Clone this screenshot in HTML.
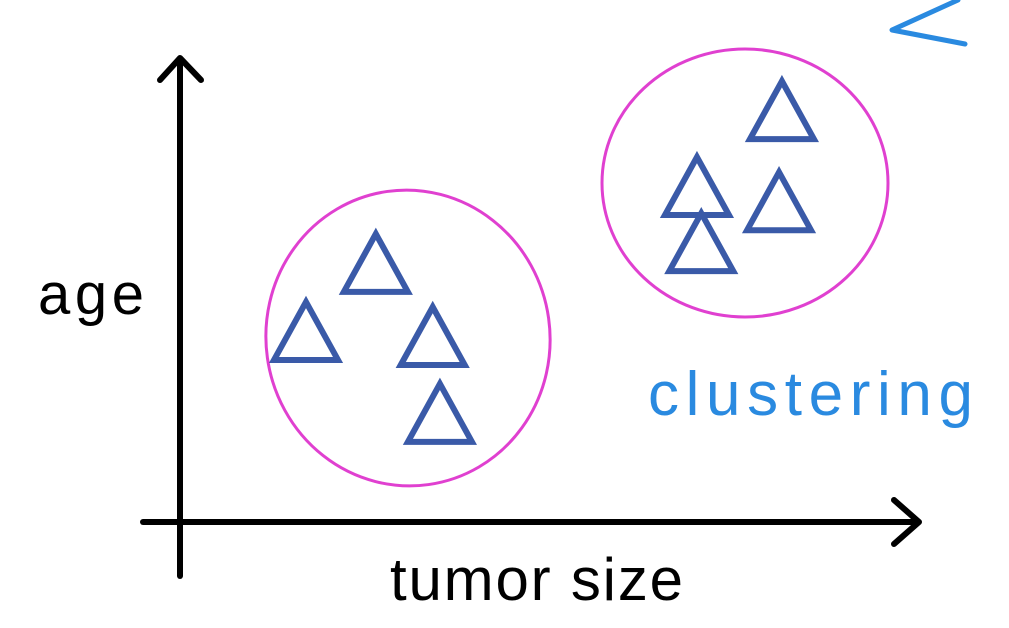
<!DOCTYPE html>
<html>
<head>
<meta charset="utf-8">
<style>
  html,body{margin:0;padding:0;background:#fff;}
  body{width:1009px;height:628px;overflow:hidden;}
  svg{display:block;}
</style>
</head>
<body>
<svg id="chart" width="1009" height="628" viewBox="0 0 1009 628" xmlns="http://www.w3.org/2000/svg">
  <rect width="1009" height="628" fill="#ffffff"/>
  <path d="M958,0 L892,30 L965,44" fill="none" stroke="#2a8ae0" stroke-width="5" stroke-linecap="round" stroke-linejoin="round"/>
  <g>
    <line x1="180" y1="60" x2="180" y2="576" stroke="#000" stroke-width="6" stroke-linecap="round"/>
    <polyline points="160,80 180,58 201,80" fill="none" stroke="#000" stroke-width="6" stroke-linecap="round" stroke-linejoin="round"/>
    <line x1="143" y1="522" x2="918" y2="522" stroke="#000" stroke-width="6" stroke-linecap="round"/>
    <polyline points="894,500 919,522 894,544" fill="none" stroke="#000" stroke-width="6" stroke-linecap="round" stroke-linejoin="round"/>
  </g>
  <text x="38" y="314" font-family="Liberation Sans, sans-serif" font-size="58" fill="#000" textLength="106">age</text>
  <text x="390" y="600" font-family="Liberation Sans, sans-serif" font-size="60" fill="#000" textLength="293">tumor size</text>
  <ellipse cx="408" cy="338" rx="142" ry="148" fill="none" stroke="#e040d0" stroke-width="3" transform="rotate(-8 408 338)"/>
  <ellipse cx="745" cy="183" rx="143" ry="134" fill="none" stroke="#e040d0" stroke-width="3"/>
  <g id="points"></g>
  <text x="648" y="415" font-family="Liberation Sans, sans-serif" font-size="62" fill="#2a8ae0" textLength="325">clustering</text>
</svg>
<script>
const tumorSize = [2.72, 1.75, 3.51, 3.61, 8.36, 7.18, 8.32, 7.24];
const age = [5.59, 4.11, 4.00, 2.33, 8.91, 7.26, 6.93, 6.04];
const clusterIds = [1, 1, 1, 1, 2, 2, 2, 2];

function xScale(v){ return 180 + v * 72; }
function yScale(v){ return 522 - v * 46; }

const g = document.getElementById('points');
const NS = 'http://www.w3.org/2000/svg';
for (let i = 0; i < tumorSize.length; i++) {
  const cx = xScale(tumorSize[i]);
  const cy = yScale(age[i]);
  const p = document.createElementNS(NS, 'polygon');
  p.setAttribute('points', `${cx},${cy-31} ${cx-32},${cy+27} ${cx+32},${cy+27}`);
  p.setAttribute('fill', 'none');
  p.setAttribute('stroke', '#3a5aa8');
  p.setAttribute('stroke-width', '6');
  
  
  g.appendChild(p);
}
</script>
</body>
</html>
